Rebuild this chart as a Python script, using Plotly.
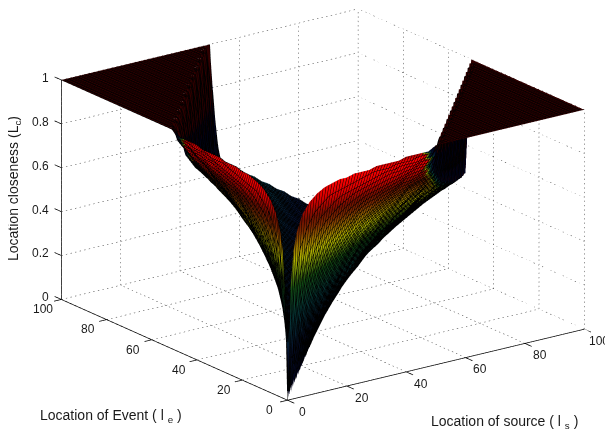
import plotly.graph_objects as go

grid_values = [0, 1, 2, 3] + [5 + 2.5 * i for i in range(39)]
x_ticks = [0, 20, 40, 60, 80, 100]
y_ticks = [0, 20, 40, 60, 80, 100]
z_ticks = [0, 0.2, 0.4, 0.6, 0.8, 1]
z_tick_labels = ["0", "0.2", "0.4", "0.6", "0.8", "1"]
# estimated heights above the diagonal, one list per source location; beyond each list the plateau is 1
z_rows = [
 [.50,.67,.75,.83,.88,.91,.93,.94,.95,.95,.96,.96,.96,.97,.97,.97,.97,.98,.98,.98,.98],
 [.33,.50,.67,.76,.82,.85,.88,.89,.90,.91,.92,.93,.94,.94,.94,.95,.95,.95,.96,.96,.96],
 [.25,.50,.65,.73,.78,.81,.84,.86,.87,.88,.89,.90,.91,.92,.92,.93,.93,.93,.94,.94],
 [.33,.53,.64,.70,.75,.78,.81,.83,.85,.86,.87,.88,.89,.90,.90,.91,.91,.92,.92,.93],
 [.29,.45,.56,.63,.68,.71,.74,.77,.79,.81,.82,.83,.84,.85,.86,.87,.88,.88,.89],
 [.23,.37,.47,.54,.60,.64,.67,.70,.73,.75,.76,.78,.79,.80,.82,.82,.83,.84,.84],
 [.19,.31,.41,.48,.53,.58,.61,.65,.67,.69,.71,.73,.75,.76,.77,.78,.79,.80,.81],
 [.16,.27,.36,.43,.48,.53,.56,.60,.63,.65,.67,.69,.71,.72,.74,.75,.76,.77,.78],
 [.14,.24,.32,.38,.44,.48,.52,.56,.58,.61,.63,.65,.67,.69,.70,.71,.73,.74,.75],
 [.12,.21,.29,.35,.40,.45,.49,.52,.55,.57,.60,.62,.64,.65,.67,.68,.70,.71,.72],
 [.11,.19,.26,.32,.37,.42,.45,.49,.52,.54,.57,.59,.61,.63,.64,.66,.67,.68,.69],
 [.10,.18,.24,.30,.35,.39,.43,.46,.49,.52,.54,.56,.58,.60,.61,.63,.64,.66,.67],
 [.09,.16,.22,.28,.32,.37,.40,.43,.46,.49,.51,.54,.56,.57,.59,.61,.62,.63,.65],
 [.08,.15,.21,.26,.30,.34,.38,.41,.44,.47,.49,.51,.53,.55,.57,.58,.60,.61,.63],
 [.07,.14,.19,.24,.29,.33,.36,.39,.42,.45,.47,.49,.51,.53,.55,.56,.58,.59,.61],
 [.07,.13,.18,.23,.27,.31,.34,.37,.40,.43,.45,.47,.49,.51,.53,.54,.56,.57,.59],
 [.06,.12,.17,.22,.26,.29,.33,.36,.38,.41,.43,.45,.47,.49,.51,.53,.54,.56,.57],
 [.06,.11,.16,.21,.25,.28,.31,.34,.37,.39,.42,.44,.46,.48,.49,.51,.52,.54,.55],
 [.06,.11,.15,.20,.23,.27,.30,.33,.35,.38,.40,.42,.44,.46,.48,.49,.51,.52,.54],
 [.05,.10,.15,.19,.22,.26,.29,.31,.34,.36,.39,.41,.43,.45,.46,.48,.49,.51,.52],
 [.05,.10,.14,.18,.21,.25,.28,.30,.33,.35,.37,.39,.41,.43,.45,.47,.48,.49,.51],
 [.05,.09,.13,.17,.20,.24,.27,.29,.32,.34,.36,.38,.40,.42,.44,.45,.47,.48,.49],
 [.05,.09,.13,.16,.20,.23,.26,.28,.31,.33,.35,.37,.39,.41,.42,.44,.45,.47,.48],
 [.04,.09,.12,.16,.19,.22,.25,.27,.30,.32,.34,.36,.38,.40,.41,.43,.44,.46,.47],
 [.04,.08,.12,.15,.18,.21,.24,.26,.29,.31,.33,.35,.37,.38,.40,.42,.43,.45],
 [.04,.08,.11,.15,.18,.20,.23,.25,.28,.30,.32,.34,.36,.37,.39,.41,.42],
 [.04,.08,.11,.14,.17,.20,.22,.25,.27,.29,.31,.33,.35,.36,.38,.40],
 [.04,.07,.11,.14,.16,.19,.22,.24,.26,.28,.30,.32,.34,.36,.37],
 [.04,.07,.10,.13,.16,.19,.21,.23,.25,.27,.29,.31,.33,.35],
 [.04,.07,.10,.13,.15,.18,.20,.23,.25,.27,.29,.30,.32],
 [.03,.07,.10,.12,.15,.17,.20,.22,.24,.26,.28,.30],
 [.03,.06,.09,.12,.15,.17,.19,.21,.23,.25,.27],
 [.03,.06,.09,.12,.14,.16,.19,.21,.23,.25],
 [.03,.06,.09,.11,.14,.16,.18,.20,.22],
 [.03,.06,.08,.11,.13,.16,.18,.20],
 [.03,.06,.08,.11,.13,.15,.17],
 [.03,.05,.08,.10,.13,.15],
 [.03,.05,.08,.10,.12],
 [.03,.05,.08,.10],
 [.03,.05,.07],
 [.03,.05],
 [.02],
 [],
]

n = len(grid_values)
z = [[0.0] * n for _ in range(n)]
shade = [[0.0] * n for _ in range(n)]
PLATEAU_SHADE = -0.02
for i in range(n):
    row = z_rows[i]
    for j in range(i + 1, n):
        k = j - i - 1
        v = row[k] if k < len(row) else 1.0
        z[j][i] = v
        z[i][j] = v
        c = PLATEAU_SHADE if grid_values[j] - grid_values[i] >= 47.5 else v
        shade[j][i] = c
        shade[i][j] = c

# the reference's cliff and plateau read almost black under their dense mesh
shaded_jet = [[0, "#300000"], [0.0196, "#000018"], [0.215, "#06102e"], [0.382, "#063a3a"], [0.51, "#124a12"],
              [0.637, "#b0b000"], [0.755, "#7a2a00"], [0.804, "#701000"], [0.882, "#d80000"], [0.951, "#ff0000"],
              [0.985, "#a00000"], [1, "#600000"]]

fig = go.Figure()
fig.add_trace(go.Surface(
    x=grid_values, y=grid_values, z=z, surfacecolor=shade, colorscale=shaded_jet, cmin=PLATEAU_SHADE, cmax=1, showscale=False,
    lighting=dict(ambient=1, diffuse=0, specular=0, fresnel=0),
    contours=dict(
        x=dict(show=True, start=0, end=100, size=1, color="black", width=4),
        y=dict(show=True, start=0, end=100, size=1, color="black", width=4),
    ),
    hoverinfo="skip",
))

gx, gy, gz = [], [], []
def dots(a, b, count):
    for i in range(count):
        f0 = i / count
        f1 = (i + 0.3) / count
        gx.extend([a[0] + (b[0] - a[0]) * f0, a[0] + (b[0] - a[0]) * f1, None])
        gy.extend([a[1] + (b[1] - a[1]) * f0, a[1] + (b[1] - a[1]) * f1, None])
        gz.extend([a[2] + (b[2] - a[2]) * f0, a[2] + (b[2] - a[2]) * f1, None])
for t in x_ticks:
    dots((t, 0, 0), (t, 100, 0), 55)
    dots((t, 100, 0), (t, 100, 1), 50)
for t in y_ticks:
    dots((0, t, 0), (100, t, 0), 65)
    dots((100, t, 0), (100, t, 1), 50)
for t in z_ticks:
    dots((0, 100, t), (100, 100, t), 65)
    dots((100, 0, t), (100, 100, t), 55)
fig.add_trace(go.Scatter3d(x=gx, y=gy, z=gz, mode="lines", line=dict(color="#333333", width=1), hoverinfo="skip"))

ax, ay, az = [], [], []
def aseg(a, b):
    ax.extend([a[0], b[0], None]); ay.extend([a[1], b[1], None]); az.extend([a[2], b[2], None])
aseg((0, 0, 0), (100, 0, 0))
aseg((0, 0, 0), (0, 100, 0))
aseg((0, 100, 0), (0, 100, 1))
for t in x_ticks:
    aseg((t, 0, 0), (t, -3, 0))
for t in y_ticks:
    aseg((0, t, 0), (-2.5, t, 0))
for t in z_ticks:
    aseg((0, 100, t), (0, 103, t))
fig.add_trace(go.Scatter3d(x=ax, y=ay, z=az, mode="lines", line=dict(color="black", width=1.5), hoverinfo="skip"))

font = dict(family="Liberation Sans, Arial, sans-serif", size=12, color="#1a1a1a")
notes = []
for t in x_ticks:
    notes.append(dict(x=t, y=0, z=0, text=str(t), showarrow=False, font=font, xshift=15, yshift=-12))
for t in y_ticks:
    notes.append(dict(x=0, y=t, z=0, text=str(t), showarrow=False, font=font, xshift=-18, yshift=-10))
for t, s in zip(z_ticks, z_tick_labels):
    notes.append(dict(x=0, y=100, z=t, text=s, showarrow=False, font=font, xanchor="right", xshift=-10, yshift=2))

axis = dict(visible=False)
title_font = dict(family=font["family"], size=14, color="#1a1a1a")
fig.update_layout(
    width=613, height=438, margin=dict(l=0, r=0, t=0, b=0), showlegend=False,
    paper_bgcolor="white",
    scene=dict(
        domain=dict(x=[0.0253, 0.9853], y=[0.062, 1]),
        xaxis=dict(range=[-4, 100], **axis),
        yaxis=dict(range=[-4, 103], **axis),
        zaxis=dict(range=[0, 1], **axis),
        aspectmode="manual", aspectratio=dict(x=1.862, y=1.992, z=1.13),
        camera=dict(eye=dict(x=-1.18, y=-1.61, z=0.654), center=dict(x=0, y=0, z=-0.036), up=dict(x=0, y=0, z=1),
                    projection=dict(type="orthographic")),
        annotations=notes,
    ),
    annotations=[
        dict(x=6/613, y=1-181/438, xref="paper", yref="paper", xanchor="center", yanchor="middle",
             text="Location closeness (L<sub>c</sub>)", textangle=-90, showarrow=False, font=title_font),
        dict(x=30/613, y=1-408/438, xref="paper", yref="paper", xanchor="left", yanchor="middle",
             text="Location of Event ( l <sub>e</sub> )", showarrow=False, font=title_font),
        dict(x=421/613, y=1-414/438, xref="paper", yref="paper", xanchor="left", yanchor="middle",
             text="Location of source ( l <sub>s</sub> )", showarrow=False, font=title_font),
    ],
)
fig.write_html("out.html")
